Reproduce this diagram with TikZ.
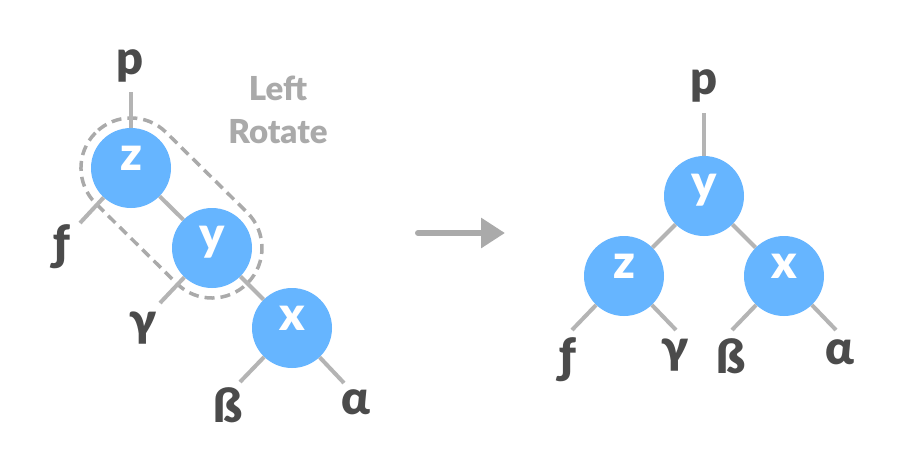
\documentclass[tikz,border=0pt]{standalone}
\usepackage{fontspec}
\setmainfont{Lato}[BoldFont={Lato Black}]
\usetikzlibrary{arrows.meta}

\definecolor{keyblue}{RGB}{102,181,255}
\definecolor{edgegray}{RGB}{180,180,180}
\definecolor{notegray}{RGB}{170,170,170}
\definecolor{leafdark}{RGB}{75,75,75}

\begin{document}
\begin{tikzpicture}[
    x=1pt, y=-1pt,
    key/.style={
        circle,
        fill=keyblue,
        minimum size=80pt,
        inner sep=0pt,
        text=white,
        text height=1ex,
        text depth=0pt,
        font=\fontsize{47}{47}\selectfont\bfseries,
    },
    leaf/.style={
        inner sep=0pt,
        text=leafdark,
        font=\fontsize{47}{47}\selectfont\bfseries,
    },
    note/.style={
        inner sep=0pt,
        anchor=base,
        text=notegray,
        font=\fontsize{33}{33}\selectfont\bfseries,
    },
    edge/.style={
        draw=edgegray,
        line width=4pt,
    },
    wrap/.style={
        draw=notegray,
        line width=3.5pt,
        dash pattern=on 10pt off 6pt,
        rounded corners=49.9pt,
    },
]
    \path[use as bounding box, fill=white] (0, 0) rectangle (902, 472);

    % before rotation
    \node[key] (zl) at (131, 168) {z};
    \node[key] (yl) at (212, 248) {y};
    \node[key] (xl) at (292, 328) {x};

    \begin{scope}[shift={(131, 168)}, rotate=-44.65]
        \draw[wrap] (-50, -50) rectangle (163.8, 50);
    \end{scope}

    \node[note] (lft) at (278, 100) {Left};
    \node[note] (rot) at (278, 143) {Rotate};

    % after rotation
    \node[key] (yr) at (704, 196) {y};
    \node[key] (zr) at (624, 276) {z};
    \node[key] (xr) at (784, 276) {x};

    \foreach \name/\txt/\lx/\ly/\ex/\ey in {
        pl/p/130/66/131/92, fl/ƒ/62/247/80/223, gl/γ/143/328/160/303,
        bl/ß/228/405/240/382, al/α/356/402/344/383,
        pr/p/704/86/704/113, fr/ƒ/568/360/572/330, gr/γ/675/355/676/330,
        br/ß/731/356/732/330, ar/α/840/352/836/330} {
        \node[leaf] (\name) at (\lx, \ly) {\txt};
        \coordinate (\name-e) at (\ex, \ey);
    }

    \foreach \a/\b in {zl/yl, yl/xl, pl-e/zl, fl-e/zl, gl-e/yl, bl-e/xl, al-e/xl,
                       yr/zr, yr/xr, pr-e/yr, fr-e/zr, gr-e/zr, br-e/xr, ar-e/xr} {
        \draw[edge] (\a) -- (\b);
    }

    \coordinate (arr-s) at (418, 233);
    \coordinate (arr-e) at (505, 233);
    \draw[draw=notegray, line width=6pt, line cap=round,
          -{Triangle[length=24pt, width=29pt]}] (arr-s) -- (arr-e);
\end{tikzpicture}
\end{document}
